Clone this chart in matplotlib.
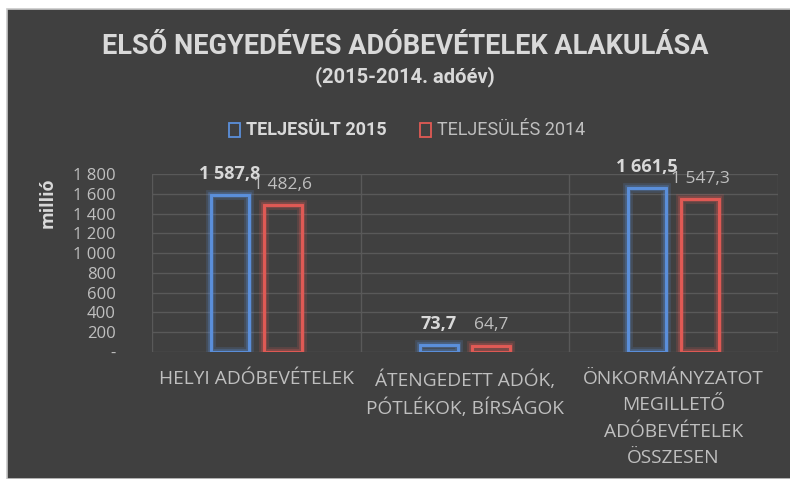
import matplotlib.pyplot as plt
import matplotlib.patheffects as pe
from matplotlib.patches import Rectangle
from matplotlib.ticker import FuncFormatter
import numpy as np

categories = ['HELYI ADÓBEVÉTELEK',
              'ÁTENGEDETT ADÓK,\nPÓTLÉKOK, BÍRSÁGOK',
              'ÖNKORMÁNYZATOT\nMEGILLETŐ\nADÓBEVÉTELEK\nÖSSZESEN']
teljesult_2015 = [1587.8, 73.7, 1661.5]
teljesules_2014 = [1482.6, 64.7, 1547.3]
series_names = ['TELJESÜLT 2015', 'TELJESÜLÉS 2014']
y_ticks = [0, 200, 400, 600, 800, 1000, 1200, 1400, 1600, 1800]

BG = '#404040'
GRID = '#595959'
TEXT = '#d9d9d9'
TICK = '#bfbfbf'
BLUE = '#5b8fdb'
RED = '#e05a55'
NARROW = ['Roboto', 'DejaVu Sans']
LABEL_FONT = ['Open Sans', 'DejaVu Sans']


def hu_num(v, decimals=1):
    # hungarian format: space thousands separator, comma decimal
    s = f'{v:,.{decimals}f}'.replace(',', ' ').replace('.', ',')
    return s


fig = plt.figure(figsize=(7.9, 4.79), dpi=100, facecolor='white')
fig.patches.append(Rectangle((7 / 790, 0), 1, 1 - 9 / 479, transform=fig.transFigure,
                             facecolor=BG, edgecolor='#c8c8c8', lw=1.2, zorder=-10))

ax = fig.add_axes([152 / 790, 1 - 352 / 479, 626 / 790, 178 / 479])
ax.set_facecolor('none')

x = np.arange(len(categories))
offset = 26.5 / 209
width = 38 / 209

glow = lambda c: [pe.withStroke(linewidth=7, foreground=c, alpha=0.18),
                  pe.withStroke(linewidth=4, foreground=c, alpha=0.3),
                  pe.Normal()]

bars15 = ax.bar(x - offset, teljesult_2015, width, facecolor='none', edgecolor=BLUE,
                linewidth=1.8, zorder=3)
bars14 = ax.bar(x + offset, teljesules_2014, width, facecolor='none', edgecolor=RED,
                linewidth=1.8, zorder=3)
for b in bars15:
    b.set_path_effects(glow(BLUE))
for b in bars14:
    b.set_path_effects(glow(RED))

for xi, v in zip(x, teljesult_2015):
    ax.annotate(hu_num(v), (xi - offset, v), xytext=(0, 15), textcoords='offset points',
                ha='center', va='center', fontsize=13, fontweight='bold', color=TEXT,
                family=LABEL_FONT, zorder=5)
for xi, v in zip(x, teljesules_2014):
    ax.annotate(hu_num(v), (xi + offset, v), xytext=(0, 14.5), textcoords='offset points',
                ha='center', va='center', fontsize=12.5, color=TICK,
                family=LABEL_FONT, zorder=5)

ax.set_xlim(-0.5, 2.5)
ax.set_ylim(0, 1800)
ax.set_yticks(y_ticks)
ax.yaxis.set_major_formatter(FuncFormatter(lambda v, p: '-' if v == 0 else hu_num(v, 0)))
ax.tick_params(axis='y', length=0, pad=26, colors=TICK, labelsize=12)
for lbl in ax.get_yticklabels():
    lbl.set_family(LABEL_FONT)
ax.set_xticks(x)
ax.set_xticklabels(categories, fontsize=13.8, color=TICK, family=LABEL_FONT,
                   linespacing=1.6, va='top')
ax.tick_params(axis='x', length=0, pad=13)

for yv in y_ticks:
    ax.axhline(yv, color=GRID, lw=1, zorder=1)
for xv in [-0.5, 0.5, 1.5, 2.5]:
    ax.axvline(xv, color=GRID, lw=1, zorder=1)
for s in ax.spines.values():
    s.set_visible(False)

fig.text(405 / 790, 1 - 47 / 479, 'ELSŐ NEGYEDÉVES ADÓBEVÉTELEK ALAKULÁSA', ha='center',
         va='center', fontsize=19.5, fontweight='bold', color=TEXT, family=NARROW)
fig.text(405 / 790, 1 - 77 / 479, '(2015-2014. adóév)', ha='center', va='center',
         fontsize=14.5, fontweight='bold', color=TEXT, family=NARROW)
fig.text(48 / 790, 1 - 203 / 479, 'millió', rotation=90, ha='center', va='center',
         fontsize=13, fontweight='bold', color=TEXT, family=LABEL_FONT)

# legend
fig.patches.append(Rectangle((229 / 790, 1 - 137 / 479), 11 / 790, 14 / 479,
                             transform=fig.transFigure, facecolor='none',
                             edgecolor=BLUE, lw=1.3))
fig.text(246 / 790, 1 - 130 / 479, series_names[0], ha='left', va='center',
         fontsize=13, fontweight='bold', color=TEXT, family=NARROW)
fig.patches.append(Rectangle((420 / 790, 1 - 137 / 479), 11 / 790, 14 / 479,
                             transform=fig.transFigure, facecolor='none',
                             edgecolor=RED, lw=1.3))
fig.text(437 / 790, 1 - 130 / 479, series_names[1], ha='left', va='center',
         fontsize=13, color=TICK, family=NARROW)

fig.savefig('out.png', dpi=100, facecolor=fig.get_facecolor())
